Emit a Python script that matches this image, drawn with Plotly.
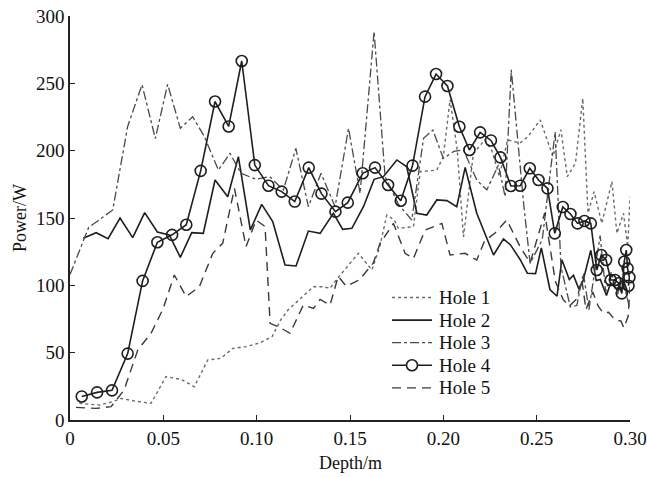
import plotly.graph_objects as go

# Hole 1 (dotted)
hole1_depth = [0.005, 0.0157, 0.0229, 0.0273, 0.035, 0.0434, 0.0514, 0.0595, 0.0666, 0.0738,
               0.0809, 0.0872, 0.0943, 0.1017, 0.1083, 0.113, 0.117, 0.124, 0.1304, 0.1355,
               0.1393, 0.1426, 0.1545, 0.1617, 0.166, 0.1697, 0.1736, 0.1759, 0.184, 0.1876,
               0.1965, 0.2, 0.2036, 0.2075, 0.2108, 0.2161, 0.2222, 0.226, 0.23, 0.2344,
               0.241, 0.2454, 0.2519, 0.2587, 0.263, 0.2664, 0.2708, 0.2747, 0.2775, 0.2808,
               0.2849, 0.2903, 0.293, 0.2965, 0.2988, 0.300]
hole1_power = [12.4, 11.1, 13.6, 16, 14, 12.4, 32.2, 30.2, 24.7, 44.6,
               45.8, 53.2, 54.5, 57.3, 62, 74.6, 82, 90.7, 99, 99,
               97.8, 104, 123.8, 111.4, 129, 152.2, 148.7, 142.3, 143.6, 184.4,
               185.6, 195.5, 238, 200, 136, 198, 208, 200, 181, 208,
               205.6, 210.5, 222.8, 195.7, 215.5, 180.7, 190.8, 238.8, 153.7, 169.5,
               146, 177, 138.6, 153.5, 128.7, 165.8]

# Hole 2 (solid)
hole2_depth = [0.0071, 0.014, 0.0204, 0.0268, 0.0336, 0.040, 0.0468, 0.0532, 0.0591, 0.0652,
               0.0714, 0.0777, 0.0845, 0.0902, 0.0966, 0.1027, 0.1086, 0.1152, 0.1211, 0.1277,
               0.134, 0.1411, 0.1461, 0.151, 0.1572, 0.1629, 0.1679, 0.1751, 0.1804, 0.1858,
               0.1911, 0.1965, 0.2019, 0.2072, 0.2117, 0.2179, 0.2269, 0.2322, 0.236, 0.2412,
               0.245, 0.2494, 0.2525, 0.2571, 0.2609, 0.2635, 0.2675, 0.2697, 0.2726, 0.2748,
               0.279, 0.2819, 0.2841, 0.2874, 0.2896, 0.293, 0.2963, 0.2989]
hole2_power = [134.9, 139.1, 134.7, 150, 135.4, 154, 139.6, 137.4, 120.8, 139.1,
               138.6, 178.2, 165.8, 195.5, 141.1, 160.1, 147.3, 115.1, 114.4, 140.3,
               138.6, 153.5, 141.6, 142.3, 158.4, 178.7, 180.7, 193.1, 188, 153.5,
               152.2, 163.4, 162.9, 158.4, 187.6, 153.5, 122.5, 134.5, 130, 119,
               109, 108.7, 127.8, 96.9, 91.9, 119, 104.3, 107.5, 97.4, 103,
               126, 103.5, 104.3, 92.4, 101.8, 96.9, 104.3, 94.4]

# Hole 3 (dash-dot)
hole3_depth = [0.0, 0.010, 0.0229, 0.0309, 0.0386, 0.0457, 0.0523, 0.0591, 0.0657, 0.072,
               0.0795, 0.0857, 0.0916, 0.0997, 0.107, 0.1143, 0.121, 0.1277, 0.1345, 0.142,
               0.1492, 0.1554, 0.1629, 0.1688, 0.176, 0.1831, 0.1894, 0.1944, 0.2, 0.2056,
               0.2108, 0.2179, 0.2233, 0.2295, 0.2331, 0.2364, 0.2432, 0.2465, 0.253, 0.2599,
               0.263, 0.268, 0.2715, 0.275, 0.278, 0.284, 0.287, 0.29, 0.293, 0.296, 0.300]
hole3_power = [108, 143, 156, 218, 249, 209, 249.3, 216.6, 225.2, 210.4,
               185.6, 198, 183.2, 178.7, 180.7, 170.8, 201.7, 158.4, 183.2, 158.4,
               216.6, 168.3, 288.4, 180.7, 160, 148.5, 209.2, 215.3, 194.3, 199.4,
               200.5, 178.2, 170.8, 189.3, 165.8, 260, 158, 116.3, 134, 214,
               114, 84, 85, 109, 82, 137, 95, 110, 92, 105, 82]

# Hole 4 (solid with open circles)
hole4_depth = [0.0063, 0.0145, 0.0225, 0.0309, 0.0389, 0.0468, 0.0547, 0.0623, 0.0700, 0.0777,
               0.0850, 0.0920, 0.0990, 0.1063, 0.1134, 0.1204, 0.1279, 0.1347, 0.1422, 0.1488,
               0.1568, 0.1634, 0.1704, 0.1772, 0.1835, 0.1902, 0.1961, 0.2022, 0.2086, 0.2140,
               0.2197, 0.2255, 0.2306, 0.2362, 0.2412, 0.2463, 0.2510, 0.2558, 0.2597, 0.2640,
               0.2681, 0.2719, 0.2756, 0.2790, 0.2822, 0.2846, 0.2872, 0.2897, 0.2920, 0.2940,
               0.2956, 0.2969, 0.2980, 0.2987, 0.2997, 0.2992]
hole4_power = [17.5, 20.5, 22, 49.3, 103.3, 132, 137.5, 145, 185, 236.5,
               218, 266.6, 189.3, 174, 169.6, 162.2, 187.4, 168.1, 154.7, 161.4,
               183.2, 187.4, 174.5, 162.8, 188.9, 240.1, 256.9, 248, 217.8, 200.5,
               213.6, 207.6, 195, 173.8, 174, 186.9, 178.2, 172, 138.6, 158.2,
               153, 146, 147.8, 146, 111.4, 122.5, 118.8, 104, 104, 101.5,
               94, 117.5, 126.2, 112.6, 106, 99.7]

# Hole 5 (dashed)
hole5_depth = [0.0032, 0.0139, 0.022, 0.029, 0.0363, 0.0434, 0.0497, 0.0559, 0.0622, 0.0693,
               0.0765, 0.0818, 0.0881, 0.0943, 0.0997, 0.1045, 0.1072, 0.112, 0.1179, 0.125,
               0.1304, 0.134, 0.1393, 0.1437, 0.148, 0.155, 0.1625, 0.1661, 0.1733, 0.1795,
               0.184, 0.1902, 0.1992, 0.2036, 0.2117, 0.2179, 0.222, 0.2277, 0.234, 0.241,
               0.2465, 0.251, 0.2543, 0.26, 0.2642, 0.2675, 0.2715, 0.2742, 0.2764, 0.28,
               0.283, 0.2856, 0.2885, 0.2918, 0.2952, 0.2967, 0.299, 0.300]
hole5_power = [9.4, 8.6, 9.9, 22.3, 52, 64.4, 82, 107.7, 91.6, 99,
               123.8, 131.2, 172, 128.7, 148.5, 143.6, 71.8, 69, 64.4, 85.4,
               82.9, 89.5, 85.4, 106.7, 99.3, 104, 116.6, 131.2, 146, 123.8,
               120, 141, 146, 122.5, 123.8, 118.8, 132.7, 138.9, 148.5, 129,
               116.6, 138.9, 153.7, 103, 89.4, 84.5, 90, 104, 82, 95,
               84.5, 79.6, 80, 74.6, 73.4, 68.4, 77, 99]

x_ticks = [0, 0.05, 0.10, 0.15, 0.20, 0.25, 0.30]
x_tick_text = ["0", "0.05", "0.10", "0.15", "0.20", "0.25", "0.30"]
y_ticks = [0, 50, 100, 150, 200, 250, 300]
x_title = "Depth/m"
y_title = "Power/W"

FONT = "Liberation Serif, Times New Roman, serif"
DARK = "#1e1e1e"

hole4_marker = dict(symbol="circle-open", size=11, color=DARK, line=dict(width=1.6, color=DARK))

series = [
    ("Hole 1", hole1_depth, hole1_power, dict(color="#6a6a6a", width=1.4, dash="dot"), None),
    ("Hole 2", hole2_depth, hole2_power, dict(color=DARK, width=1.6, dash="solid"), None),
    ("Hole 3", hole3_depth, hole3_power, dict(color="#4a4a4a", width=1.3, dash="dashdot"), None),
    ("Hole 4", hole4_depth, hole4_power, dict(color=DARK, width=1.6, dash="solid"), hole4_marker),
    ("Hole 5", hole5_depth, hole5_power, dict(color="#3a3a3a", width=1.4, dash="9px,6px"), None),
]

fig = go.Figure()
for name, xs, ys, line, marker in series:
    fig.add_trace(go.Scatter(
        x=xs, y=ys, name=name,
        mode="lines+markers" if marker else "lines",
        line=line, marker=marker, cliponaxis=False, showlegend=False,
    ))

# Pixel helpers for the plot area (paper coordinates)
PLOT_L, PLOT_T, PLOT_W, PLOT_H = 70, 16, 560, 404
def px_x(p):
    return (p - PLOT_L) / PLOT_W
def px_y(p):
    return (PLOT_T + PLOT_H - p) / PLOT_H

# Compact key: sample line, optional circle, label
key_x0, key_x1, key_text_x = 392, 432, 437
key_row0, key_row_step = 297.5, 22.6
for i, (name, _, _, line, marker) in enumerate(series):
    yc = key_row0 + i * key_row_step
    fig.add_shape(type="line", xref="paper", yref="paper",
                  x0=px_x(key_x0), x1=px_x(key_x1), y0=px_y(yc), y1=px_y(yc),
                  line=dict(color=line["color"], width=line["width"], dash=line["dash"]))
    if marker:
        xm = px_x((key_x0 + key_x1) / 2)
        ym = px_y(yc)
        fig.add_shape(type="circle", xref="paper", yref="paper",
                      xsizemode="pixel", ysizemode="pixel", xanchor=xm, yanchor=ym,
                      x0=-5.5, x1=5.5, y0=-5.5, y1=5.5,
                      fillcolor="white", line=dict(color=DARK, width=1.6))
    fig.add_annotation(x=px_x(key_text_x), y=px_y(yc), xref="paper", yref="paper",
                       text=name, showarrow=False, xanchor="left", yanchor="middle",
                       font=dict(family=FONT, size=19, color="#111"))

# Axis titles placed explicitly
fig.add_annotation(x=0.5, y=px_y(451), xref="paper", yref="paper", text=x_title,
                   showarrow=False, xanchor="center", yanchor="top",
                   font=dict(family=FONT, size=18, color="#111"))
fig.add_annotation(x=px_x(20), y=px_y(218), xref="paper", yref="paper", text=y_title,
                   showarrow=False, xanchor="center", yanchor="middle", textangle=-90,
                   font=dict(family=FONT, size=18, color="#111"))

fig.update_layout(
    width=647, height=477,
    margin=dict(l=70, r=17, t=16, b=57),
    paper_bgcolor="white", plot_bgcolor="white",
    font=dict(family=FONT, size=19, color="#111"),
    showlegend=False,
)

fig.update_xaxes(
    range=[0, 0.30], tickvals=x_ticks, ticktext=x_tick_text, automargin=False,
    showgrid=False, zeroline=False, showline=True, linecolor="#222", linewidth=1.6,
    ticks="inside", ticklen=5, tickwidth=1.4, tickcolor="#222",
    tickfont=dict(family=FONT, size=19),
)
fig.update_yaxes(
    range=[0, 300], tickvals=y_ticks, automargin=False,
    showgrid=False, zeroline=False, showline=True, linecolor="#222", linewidth=1.6,
    ticks="inside", ticklen=5, tickwidth=1.4, tickcolor="#222",
    tickfont=dict(family=FONT, size=19),
)

fig.write_html("out.html")
